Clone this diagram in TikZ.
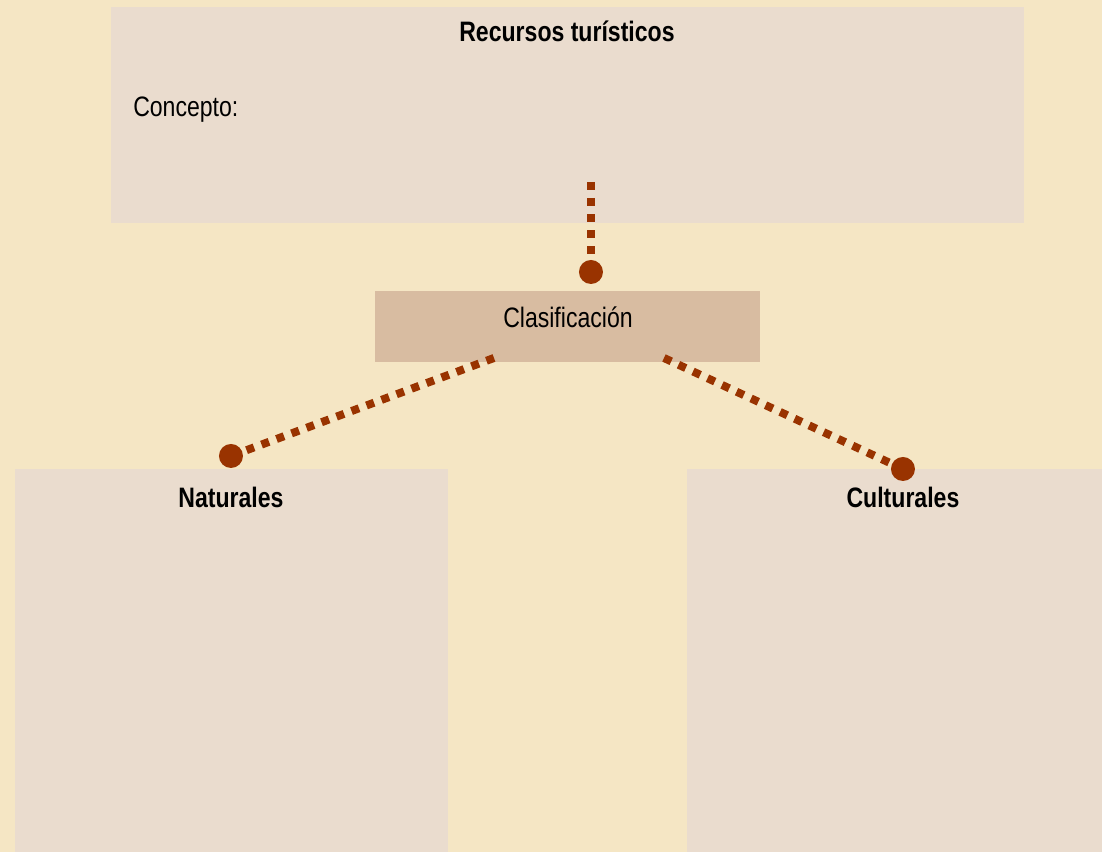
\documentclass[tikz,border=0pt]{standalone}
\usepackage{fontspec}
\setmainfont{Liberation Sans}[FakeStretch=0.82]
\usepackage{tikz}

\definecolor{fondo}{HTML}{F5E6C4}
\definecolor{caja}{HTML}{EADCCE}
\definecolor{cajaosc}{HTML}{D8BCA1}
\definecolor{punto}{HTML}{993300}

\begin{document}
\begin{tikzpicture}[x=0.025cm, y=-0.025cm, inner sep=0pt,
  box/.style={rectangle, fill=caja, draw=none},
  dot/.style={circle, fill=punto, draw=none, minimum size=0.6cm},
  link/.style={punto, line width=0.2cm, dash pattern=on 0.2cm off 0.2cm},
  txt/.style={anchor=base, font=\fontsize{20pt}{24pt}\selectfont}]
\fill[fondo] (0,0) rectangle (1102,852);
% cajas
\node (top) at (567.5,115) [box, minimum width=22.825cm, minimum height=5.4cm] {};
\node (clas) at (567.5,326.5) [box, fill=cajaosc, minimum width=9.625cm, minimum height=1.775cm] {};
\node (nat) at (231.5,660.5) [box, minimum width=10.825cm, minimum height=9.575cm] {};
\node (cult) at (894.5,660.5) [box, minimum width=10.375cm, minimum height=9.575cm] {};
% textos
\node (toptxt) at (567,42) [txt] {\bfseries Recursos turísticos};
\node (concepto) at (133,117) [txt, anchor=base west] {Concepto:};
\node (clastxt) at (568,328) [txt] {Clasificación};
\node (nattxt) at (231,508) [txt] {\bfseries Naturales};
\node (culttxt) at (903,508) [txt] {\bfseries Culturales};
% puntos
\node (dt) at (591,272) [dot] {};
\node (dl) at (231,456) [dot] {};
\node (dr) at (903,469) [dot] {};
\coordinate (ct) at (591,182);
\coordinate (cl) at (494,358);
\coordinate (cr) at (664,358);
\draw[link] (ct) -- (dt);
\draw[link] (cl) -- (dl);
\draw[link] (cr) -- (dr);
\end{tikzpicture}
\end{document}
